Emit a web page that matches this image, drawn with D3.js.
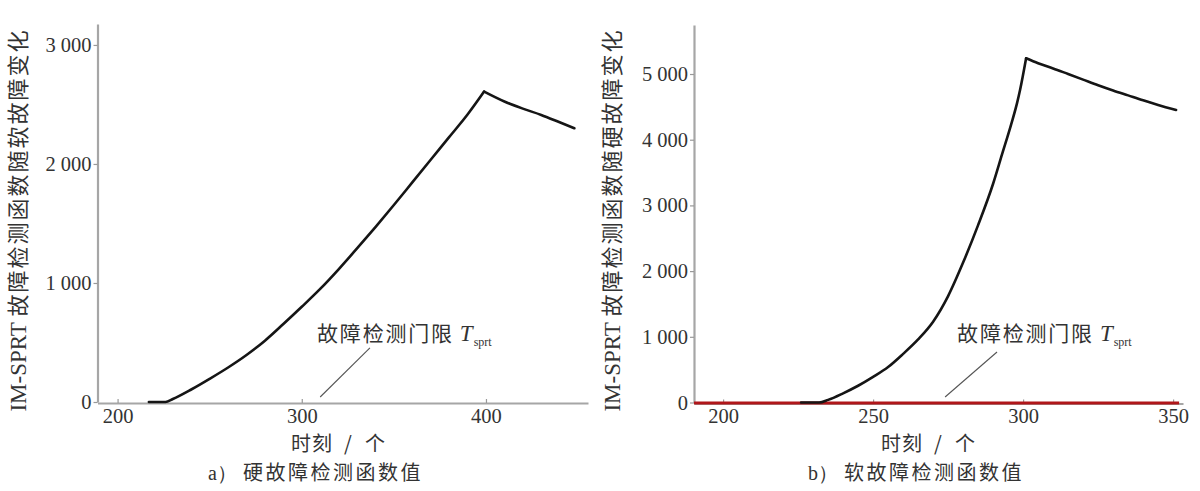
<!DOCTYPE html>
<html><head><meta charset="utf-8">
<script src="https://cdn.jsdelivr.net/npm/d3@7/dist/d3.min.js"></script>
<style>
body{margin:0;background:#fff}
svg{display:block}
.tick text{font-family:"Liberation Serif","Times New Roman",serif;font-size:20.5px;fill:#333}
.cjk{font-family:"Noto Sans CJK SC","Noto Sans",sans-serif}
.lat{font-family:"Liberation Serif","Times New Roman",serif}
</style>
</head><body>
<svg id="chart" width="1200" height="491"></svg>
<script>
// ---- data ----
const hardTime  = [217, 226, 230, 240, 250, 260, 270, 280, 290, 300, 310, 320, 330, 340, 350, 360, 370, 380, 390, 399, 410, 420, 430, 440, 448];
const hardValue = [0,   0,   25,  105, 195, 290, 395, 515, 655, 800, 950, 1115, 1290, 1470, 1655, 1845, 2035, 2225, 2415, 2608, 2525, 2465, 2412, 2350, 2300];

const softTime  = [226, 232, 235, 240, 245, 250, 255, 260, 265, 270, 275, 280, 285, 290, 293, 296, 298, 299, 301, 305, 310, 315, 320, 325, 330, 335, 340, 345, 351];
const softValue = [0,   0,   40,  140, 255, 390, 540, 740, 960, 1230, 1620, 2130, 2700, 3330, 3780, 4230, 4560, 4760, 5240, 5165, 5085, 5000, 4915, 4830, 4750, 4675, 4600, 4530, 4452];

const thresholdTime  = [190.3, 352];
const thresholdValue = [0, 0];

const hardXTicks = [200, 300, 400];
const hardYTicks = [0, 1000, 2000, 3000];
const softXTicks = [200, 250, 300, 350];
const softYTicks = [0, 1000, 2000, 3000, 4000, 5000];

const xTitle = ["时刻", "/", "个"];
const hardYTitle = ["IM-SPRT", "故障检测函数随软故障变化"];
const softYTitle = ["IM-SPRT", "故障检测函数随硬故障变化"];
const hardCaption = ["a）", "硬故障检测函数值"];
const softCaption = ["b）", "软故障检测函数值"];
const annotText = ["故障检测门限", "T", "sprt"];

// ---- layout ----
const svg = d3.select("#chart");
const fmt = v => v === 0 ? "0" : d3.format(",")(v).replace(",", "\u00a0");

const panels = [
  {
    time: hardTime, value: hardValue, xTicks: hardXTicks, yTicks: hardYTicks,
    xDomain: [189.1, 455.4], xRange: [97.5, 588],
    yDomain: [0, 3176], yRange: [402, 24],
    yTitle: hardYTitle, yTitleX: 26, caption: hardCaption, captionX: 208,
    xTitleX: 338,
    annot: {from: [337, 454], to: [310, 42], text: [308.3, 580]},
    threshold: false
  },
  {
    time: softTime, value: softValue, xTicks: softXTicks, yTicks: softYTicks,
    xDomain: [190.3, 353.3], xRange: [694, 1183],
    yDomain: [0, 5746], yRange: [402.5, 25],
    yTitle: softYTitle, yTitleX: 620, caption: softCaption, captionX: 808,
    xTitleX: 928,
    annot: {from: [291.3, 769], to: [274, 84], text: [278, 1058]},
    threshold: true
  }
];

panels.forEach(p => {
  const x = d3.scaleLinear().domain(p.xDomain).range(p.xRange);
  const y = d3.scaleLinear().domain(p.yDomain).range(p.yRange);
  const g = svg.append("g");

  // y axis
  const ya = g.append("g").attr("transform", `translate(${p.xRange[0]},0)`)
    .call(d3.axisLeft(y).tickValues(p.yTicks).tickFormat(fmt).tickSizeInner(4).tickSizeOuter(0).tickPadding(2));
  // x axis
  const xa = g.append("g").attr("transform", `translate(0,${p.yRange[0] + 1})`)
    .call(d3.axisBottom(x).tickValues(p.xTicks).tickFormat(d3.format("d")).tickSizeInner(-4).tickSizeOuter(0).tickPadding(5));
  [ya, xa].forEach(a => {
    a.select(".domain").attr("stroke", "#a6a6a6").attr("stroke-width", 2.2);
    a.selectAll(".tick line").attr("stroke", "#999").attr("stroke-width", 1.2);
  });

  // threshold line
  if (p.threshold) {
    g.append("path")
      .datum(d3.zip(thresholdTime, thresholdValue))
      .attr("fill", "none").attr("stroke", "#b0161a").attr("stroke-width", 3)
      .attr("d", d3.line().x(d => x(d[0])).y(d => y(d[1]) + 0.5));
  }

  // curve: rising and falling parts drawn smooth, joined at a sharp peak
  const pts = d3.zip(p.time, p.value);
  const peak = d3.maxIndex(p.value);
  const line = d3.line().x(d => x(d[0])).y(d => y(d[1])).curve(d3.curveMonotoneX);
  [pts.slice(0, peak + 1), pts.slice(peak)].forEach(seg => {
    g.append("path")
      .datum(seg)
      .attr("fill", "none").attr("stroke", "#151515").attr("stroke-width", 2.6)
      .attr("stroke-linejoin", "round").attr("stroke-linecap", "round")
      .attr("d", line);
  });

  // annotation
  g.append("line")
    .attr("x1", x(p.annot.from[0])).attr("y1", y(p.annot.from[1]))
    .attr("x2", x(p.annot.to[0])).attr("y2", y(p.annot.to[1]))
    .attr("stroke", "#555").attr("stroke-width", 1.1);
  const at = g.append("text")
    .attr("x", x(p.annot.text[0])).attr("y", y(p.annot.text[1]) + 8)
    .attr("fill", "#333");
  at.append("tspan").attr("class", "cjk").attr("font-size", 21).attr("letter-spacing", 1.8).text(annotText[0]);
  at.append("tspan").attr("class", "lat").attr("font-size", 23).attr("font-style", "italic").attr("dx", 6).text(annotText[1]);
  at.append("tspan").attr("class", "lat").attr("font-size", 12).attr("dy", 5).attr("dx", 1).text(annotText[2]);

  // y title
  const yt = g.append("text")
    .attr("transform", `translate(${p.yTitleX},220) rotate(-90)`)
    .attr("text-anchor", "middle").attr("fill", "#333");
  yt.append("tspan").attr("class", "lat").attr("font-size", 23).text(p.yTitle[0] + "\u00a0");
  yt.append("tspan").attr("class", "cjk").attr("font-size", 22).attr("letter-spacing", 2).text(p.yTitle[1]);

  // x title
  const xt = g.append("text").attr("class", "cjk")
    .attr("x", p.xTitleX).attr("y", 450.5)
    .attr("text-anchor", "middle").attr("font-size", 20).attr("fill", "#333");
  xt.append("tspan").attr("letter-spacing", 1).text(xTitle[0]);
  xt.append("tspan").attr("dx", 11).text(xTitle[1]);
  xt.append("tspan").attr("dx", 13).text(xTitle[2]);

  // caption
  const ct = g.append("text").attr("x", p.captionX).attr("y", 479.5).attr("fill", "#333");
  ct.append("tspan").attr("class", "lat").attr("font-size", 20).text(p.caption[0]);
  ct.append("tspan").attr("class", "cjk").attr("font-size", 20).attr("dx", 6).attr("letter-spacing", 2.5).text(p.caption[1]);
});
</script>
</body></html>
